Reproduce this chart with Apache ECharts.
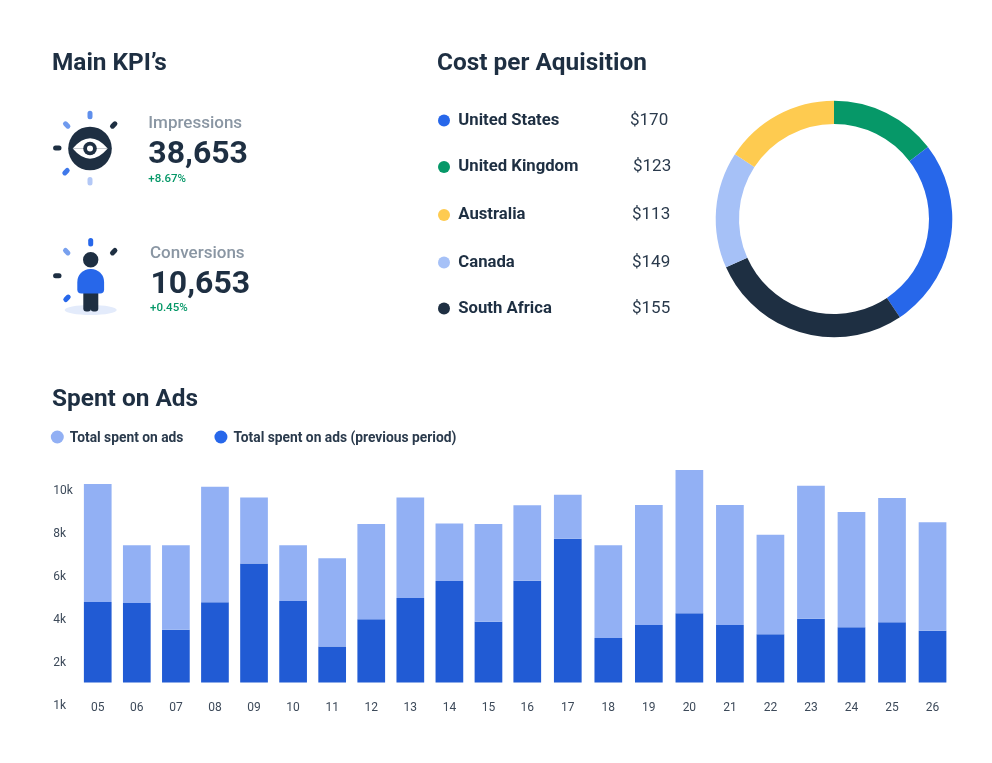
<!DOCTYPE html>
<html>
<head>
<meta charset="utf-8">
<title>Ads dashboard</title>
<style>
  html, body { margin: 0; padding: 0; background: #fff; }
  #main { width: 992px; height: 763px; }
</style>
<script src="https://cdn.jsdelivr.net/npm/echarts@6/dist/echarts.min.js"></script>
</head>
<body>
<div id="main"></div>
<script>
// ==================== data ====================

const categories = ['05', '06', '07', '08', '09', '10', '11', '12', '13', '14', '15',
  '16', '17', '18', '19', '20', '21', '22', '23', '24', '25', '26'];
// top of the dark bar / top of the whole bar, read on the axis
const previousPeriod = [4750, 4700, 3450, 4730, 6530, 4790, 2680, 3940, 4930, 5720, 3830,
  5730, 7690, 3070, 3670, 4220, 3670, 3240, 3970, 3570, 3800, 3410];
const totalSpent = [10230, 7380, 7380, 10110, 9610, 7380, 6780, 8370, 9610, 8400, 8370,
  9240, 9730, 7380, 9260, 10880, 9260, 7870, 10150, 8930, 9580, 8450];
// bars sit on the 1k line, the lowest tick label is one step under it
const barBase = 1000;
const yTickLabels = ['1k', '2k', '4k', '6k', '8k', '10k'];

const regionNames = ['United States', 'United Kingdom', 'Australia', 'Canada', 'South Africa'];
const regionCosts = ['$170', '$123', '$113', '$149', '$155'];

// ring segments, clockwise from 12 o'clock, share of the ring in %
const ringRegions = ['United Kingdom', 'United States', 'South Africa', 'Canada', 'Australia'];
const ringShares = [14.6, 26.0, 27.7, 15.9, 15.8];

const kpiNames = ['Impressions', 'Conversions'];
const kpiValues = ['38,653', '10,653'];
const kpiChanges = ['+8.67%', '+0.45%'];

// ==================== styles ====================

const FONT = 'Roboto, sans-serif';
const INK = '#1e2f42';
const GREEN = '#069868';
const BLUE = '#2767ea';
const BAR_DARK = '#215bd4';
const BAR_LIGHT = '#92b0f4';
const regionColors = {
  'United States': BLUE,
  'United Kingdom': GREEN,
  'Australia': '#fecb50',
  'Canada': '#a6c1f7',
  'South Africa': INK,
};
const costX = [630, 633, 632, 632, 632];
const rowY = [119.5, 166, 214, 261.5, 307.5];

// ==================== graphic helpers ====================

function label(text, x, y, font, fill) {
  return { type: 'text', x: x, y: y, style: { text: text, font: font + ' ' + FONT, fill: fill, textVerticalAlign: 'middle' } };
}

function pill(x, y, angle, color) {
  return {
    type: 'rect', x: x, y: y, rotation: angle * Math.PI / 180,
    shape: { x: -4.2, y: -2.5, width: 8.4, height: 5, r: 2.5 },
    style: { fill: color },
  };
}

function dot(x, y, r, color) {
  return { type: 'circle', shape: { cx: x, cy: y, r: r }, style: { fill: color } };
}

const eyeIcon = [
  pill(90, 115, 90, '#5f8fec'),
  pill(66.7, 125, -45, '#6f9aee'),
  pill(113.7, 125, 45, INK),
  pill(57.3, 148, 0, INK),
  pill(66, 171.7, 45, '#3f78ea'),
  pill(90, 181.3, 90, '#b3c8f6'),
  dot(90, 148.5, 21.8, INK),
  { type: 'bezierCurve', shape: { x1: 72.7, y1: 148.5, cpx1: 90, cpy1: 128, x2: 107.7, y2: 148.5 }, style: { fill: '#fff', stroke: 'none' } },
  { type: 'bezierCurve', shape: { x1: 72.7, y1: 148.5, cpx1: 90, cpy1: 169, x2: 107.7, y2: 148.5 }, style: { fill: '#fff', stroke: 'none' } },
  dot(90, 148.5, 6.8, INK),
  dot(90, 148.5, 3, '#fff'),
];

const personIcon = [
  { type: 'ellipse', shape: { cx: 90.7, cy: 310, rx: 26, ry: 5 }, style: { fill: '#e3ebfb' } },
  pill(90.7, 242.3, 90, BLUE),
  pill(66.7, 251.7, -45, '#78a0ee'),
  pill(113.7, 251.7, 45, INK),
  pill(57.3, 275.7, 0, INK),
  pill(67, 298.3, 45, BLUE),
  dot(90.7, 259.7, 7.7, INK),
  { type: 'rect', shape: { x: 83.3, y: 290, width: 7.7, height: 21.5, r: [0, 0, 3, 3] }, style: { fill: INK } },
  { type: 'rect', shape: { x: 90.6, y: 290, width: 7.7, height: 21.5, r: [0, 0, 3, 3] }, style: { fill: INK } },
  { type: 'rect', shape: { x: 77.3, y: 269, width: 26.8, height: 24.5, r: [13, 13, 4, 4] }, style: { fill: BLUE } },
];

const kpiText = [
  label(kpiNames[0], 148.3, 124, '500 17px', '#8a96a3'),
  label(kpiValues[0], 148.3, 155, '700 32px', INK),
  label(kpiChanges[0], 148.3, 179, '500 11.5px', GREEN),
  label(kpiNames[1], 150, 253.5, '500 17px', '#8a96a3'),
  label(kpiValues[1], 150.5, 285, '700 32px', INK),
  label(kpiChanges[1], 150, 308, '500 11.5px', GREEN),
];

const headings = [
  label('Main KPI’s', 52, 63.5, '700 24.4px', INK),
  label('Cost per Aquisition', 437, 63.5, '700 24.4px', INK),
  label('Spent on Ads', 52, 399.5, '700 24.4px', INK),
];

const regionRows = [];
regionNames.forEach((name, i) => {
  regionRows.push(dot(444, rowY[i] + 1, 6, regionColors[name]));
  regionRows.push(label(name, 458.3, rowY[i] + 1, '700 16.7px', INK));
  regionRows.push(label(regionCosts[i], costX[i], rowY[i] + 1, '400 17px', '#2a3a4c'));
});

// ==================== bars ====================

// the picture's bars are spaced a little tighter up to 15, so two grids side by side
const SPLIT = 11;
const grids = [
  { left: 78.2, width: 429.8, top: 446, bottom: 59 },
  { left: 507, width: 445.8, top: 446, bottom: 59 },
];

function xAxisFor(gridIndex, data) {
  return {
    type: 'category', gridIndex: gridIndex, data: data,
    axisLine: { show: false }, axisTick: { show: false },
    axisLabel: { color: '#3d4a5a', fontFamily: FONT, fontSize: 12, margin: -2.5 },
  };
}

function yAxisFor(gridIndex) {
  return {
    type: 'value', gridIndex: gridIndex, min: 0, max: 12000, interval: 2000,
    axisLine: { show: false }, axisTick: { show: false }, splitLine: { show: false },
    axisLabel: {
      // tick labels sit about 2px under their tick in the picture
      show: gridIndex === 0, align: 'left', verticalAlign: 'top', lineHeight: 4, margin: 25,
      color: '#3d4a5a', fontFamily: FONT, fontSize: 12,
      formatter: (value, index) => yTickLabels[index] || '',
    },
  };
}

function barSeries(gridIndex, from, to) {
  const stack = 'spent' + gridIndex;
  const common = { type: 'bar', stack: stack, xAxisIndex: gridIndex, yAxisIndex: gridIndex, barWidth: 27.7, silent: true };
  const prev = previousPeriod.slice(from, to);
  const total = totalSpent.slice(from, to);
  return [
    Object.assign({}, common, { name: 'base', data: prev.map(() => barBase), itemStyle: { color: 'transparent' } }),
    Object.assign({}, common, { name: 'Total spent on ads (previous period)', data: prev.map(v => v - barBase), itemStyle: { color: BAR_DARK } }),
    Object.assign({}, common, { name: 'Total spent on ads', data: total.map((v, i) => v - prev[i]), itemStyle: { color: BAR_LIGHT } }),
  ];
}

// ==================== chart ====================

const chart = echarts.init(document.getElementById('main'));
chart.setOption({
  animation: false,
  backgroundColor: '#fff',
  textStyle: { fontFamily: FONT },
  legend: {
    left: 50.8, top: 430.5, padding: 0, itemWidth: 13, itemHeight: 13, itemGap: 31, icon: 'circle',
    selectedMode: false,
    formatter: name => '{t|' + name + '}',
    textStyle: {
      rich: { t: { color: '#2a3a4c', fontFamily: FONT, fontSize: 13.8, fontWeight: 700, padding: [3, 0, 0, 1] } },
    },
    data: [
      { name: 'Total spent on ads', itemStyle: { color: BAR_LIGHT } },
      { name: 'Total spent on ads (previous period)', itemStyle: { color: BLUE } },
    ],
  },
  grid: grids,
  xAxis: [xAxisFor(0, categories.slice(0, SPLIT)), xAxisFor(1, categories.slice(SPLIT))],
  yAxis: [yAxisFor(0), yAxisFor(1)],
  series: [
    ...barSeries(0, 0, SPLIT),
    ...barSeries(1, SPLIT, categories.length),
    {
      type: 'pie', silent: true, center: [834, 219], radius: [95, 118.3],
      startAngle: 90, clockwise: true, label: { show: false }, labelLine: { show: false },
      data: ringRegions.map((name, i) => ({ name: name, value: ringShares[i], itemStyle: { color: regionColors[name] } })),
    },
  ],
  graphic: { elements: [...headings, ...eyeIcon, ...personIcon, ...kpiText, ...regionRows] },
});
</script>
</body>
</html>
